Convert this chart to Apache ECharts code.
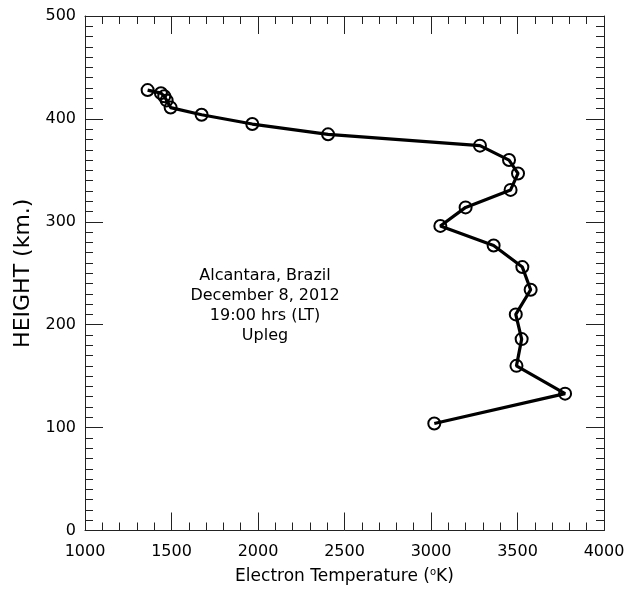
<!DOCTYPE html>
<html>
<head>
<meta charset="utf-8">
<script src="https://cdn.jsdelivr.net/npm/echarts@6/dist/echarts.min.js"></script>
<style>html,body{margin:0;padding:0;background:#fff;}#c{width:638px;height:590px;}</style>
</head>
<body>
<div id="c"></div>
<script>
// Electron temperature (K) vs height (km), Upleg
const temperature = [1362, 1439, 1458, 1472, 1495, 1674, 1967, 2405, 3283, 3451, 3503, 3460, 3200, 3054, 3362, 3528, 3576, 3490, 3524, 3494, 3775, 3019];
const height =      [ 428,  425,  422,  418,  411,  404,  395,  385,  374,  360,  347,  331,  314,  296,  277,  256,  234,  210,  186,  160,  133,  104];
const xTicks = [1000, 1500, 2000, 2500, 3000, 3500, 4000];
const yTicks = [0, 100, 200, 300, 400, 500];
const annotation = ['Alcantara, Brazil', 'December 8, 2012', '19:00 hrs (LT)', 'Upleg'];

const FONT = 'DejaVu Sans';
const axisCol = '#222';
const chart = echarts.init(document.getElementById('c'), null, {renderer: 'canvas'});
const pts = temperature.map((t, i) => [t, height[i]]);

function xAx(pos, show) {
  return {
    type: 'value', position: pos, min: xTicks[0], max: xTicks[xTicks.length - 1], interval: 500,
    axisLine: {show: true, onZero: false, lineStyle: {color: axisCol, width: 1}},
    axisTick: {show: true, inside: true, length: 18, lineStyle: {color: axisCol, width: 1}},
    minorTick: {show: true, splitNumber: 5, length: 8, lineStyle: {color: axisCol, width: 1}},
    splitLine: {show: false}, minorSplitLine: {show: false},
    axisLabel: {show: show, color: '#000', fontFamily: FONT, fontSize: 16, margin: 13,
      formatter: v => String(v)},
    name: show ? 'Electron Temperature ({sup|o}K)' : '', nameLocation: 'middle', nameGap: 37,
    nameTextStyle: {color: '#000', fontFamily: FONT, fontSize: 17,
      rich: {sup: {fontSize: 10, verticalAlign: 'top', padding: [0, 0, 8, 0], fontFamily: FONT, color: '#000'}}}
  };
}
function yAx(pos, show) {
  return {
    type: 'value', position: pos, min: yTicks[0], max: yTicks[yTicks.length - 1], interval: 100,
    axisLine: {show: true, onZero: false, lineStyle: {color: axisCol, width: 1}},
    axisTick: {show: true, inside: true, length: 18, lineStyle: {color: axisCol, width: 1}},
    minorTick: {show: true, splitNumber: 10, length: 8, lineStyle: {color: axisCol, width: 1}},
    splitLine: {show: false}, minorSplitLine: {show: false},
    axisLabel: {show: show, color: '#000', fontFamily: FONT, fontSize: 16, margin: 9,
      formatter: v => String(v)},
    name: show ? 'HEIGHT (km.)' : '', nameLocation: 'middle', nameGap: 46,
    nameTextStyle: {color: '#000', fontFamily: FONT, fontSize: 22}
  };
}

chart.setOption({
  animation: false,
  backgroundColor: '#fff',
  grid: {left: 85, right: 34, top: 16, bottom: 56, containLabel: false},
  xAxis: [xAx('bottom', true), xAx('top', false)],
  yAxis: [yAx('left', true), yAx('right', false)],
  series: [{
    type: 'line', xAxisIndex: 0, yAxisIndex: 0, data: pts,
    lineStyle: {color: '#000', width: 3.2},
    symbol: 'circle', symbolSize: 12,
    itemStyle: {color: 'rgba(255,255,255,0)', borderColor: '#000', borderWidth: 2},
    z: 3
  }],
  graphic: annotation.map((t, i) => ({
    type: 'text', x: 265, y: 276 + i * 20,
    style: {text: t, font: '16px "' + FONT + '"', fill: '#000', align: 'center', verticalAlign: 'middle'}
  }))
});
</script>
</body>
</html>
